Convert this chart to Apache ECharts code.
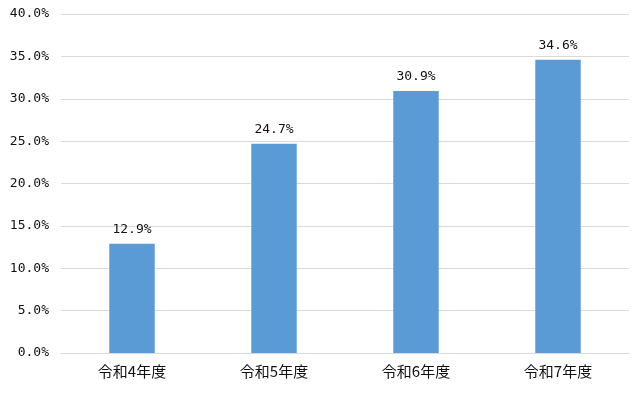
<!DOCTYPE html>
<html>
<head>
<meta charset="utf-8">
<script src="https://cdn.jsdelivr.net/npm/echarts@6/dist/echarts.min.js"></script>
<style>
  html, body { margin: 0; padding: 0; background: #fff; }
  #chart { width: 633px; height: 409px; }
</style>
</head>
<body>
<div id="chart"></div>
<script>
var categories = ["令和4年度", "令和5年度", "令和6年度", "令和7年度"];
var values = [12.9, 24.7, 30.9, 34.6];

var numFont = "'DejaVu Sans Mono', 'Noto Sans CJK JP', monospace";
var chart = echarts.init(document.getElementById("chart"));
chart.setOption({
    animation: false,
    grid: { left: 61, right: 4, top: 14, bottom: 56, containLabel: false },
    xAxis: {
        type: "category",
        data: categories,
        axisLine: { lineStyle: { color: "#d9d9d9", width: 1 } },
        axisTick: { show: false },
        axisLabel: {
            color: "#111",
            fontSize: 15,
            fontFamily: "'Noto Sans CJK JP', sans-serif",
            margin: 11
        }
    },
    yAxis: {
        type: "value",
        min: 0,
        max: 40,
        interval: 5,
        axisLine: { show: false },
        axisTick: { show: false },
        splitLine: { lineStyle: { color: "#d9d9d9", width: 1 } },
        axisLabel: {
            color: "#111",
            fontSize: 13,
            fontFamily: numFont,
            margin: 12,
            formatter: function (v) { return v.toFixed(1) + "%"; }
        }
    },
    series: [{
        type: "bar",
        data: values,
        barWidth: "32%",
        itemStyle: { color: "#5b9bd5" },
        label: {
            show: true,
            position: "top",
            distance: 8,
            color: "#111",
            fontSize: 13,
            fontFamily: numFont,
            formatter: function (p) { return p.value.toFixed(1) + "%"; }
        }
    }]
});
</script>
</body>
</html>
